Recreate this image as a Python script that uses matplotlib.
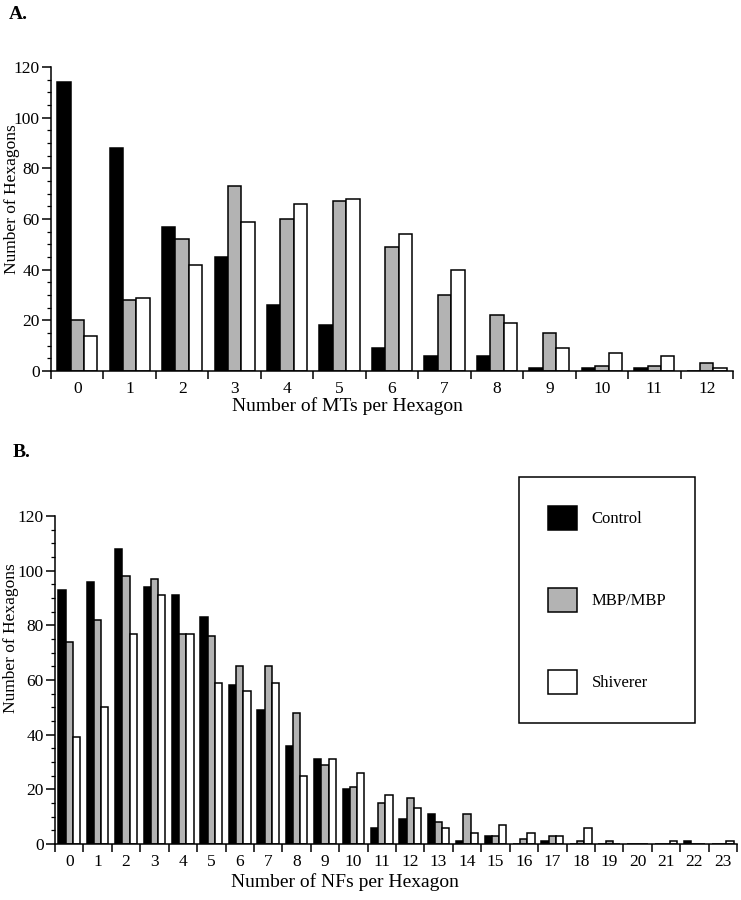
import numpy as np
import matplotlib
matplotlib.use("Agg")
import matplotlib.pyplot as plt

plt.rcParams['font.family'] = ['Liberation Serif', 'DejaVu Serif']

# Panel A: number of MTs per hexagon
mt_bins = list(range(13))
mt_control = [114, 88, 57, 45, 26, 18, 9, 6, 6, 1, 1, 1, 0]
mt_mbp = [20, 28, 52, 73, 60, 67, 49, 30, 22, 15, 2, 2, 3]
mt_shiverer = [14, 29, 42, 59, 66, 68, 54, 40, 19, 9, 7, 6, 1]

# Panel B: number of NFs per hexagon
nf_bins = list(range(24))
nf_control = [93, 96, 108, 94, 91, 83, 58, 49, 36, 31, 20, 6, 9, 11, 1, 3, 0, 1, 0, 0, 0, 0, 1, 0]
nf_mbp = [74, 82, 98, 97, 77, 76, 65, 65, 48, 29, 21, 15, 17, 8, 11, 3, 2, 3, 1, 1, 0, 0, 0, 0]
nf_shiverer = [39, 50, 77, 91, 77, 59, 56, 59, 25, 31, 26, 18, 13, 6, 4, 7, 4, 3, 6, 0, 0, 1, 0, 1]

series_names = ['Control', 'MBP/MBP', 'Shiverer']
colores = ['black', '#b3b3b3', 'white']

W, H = 741, 900
fig = plt.figure(figsize=(W / 100, H / 100), dpi=100)


def box(l, t, r, b):
    return [l / W, 1 - b / H, (r - l) / W, (b - t) / H]


def panel(ax, bins, data, xlabel, ylab_xy, xlab_xy):
    x = np.array(bins)
    bw = 0.255
    for k, (vals, c) in enumerate(zip(data, colores)):
        ax.bar(x + (k - 1) * bw, vals, width=bw, color=c, edgecolor='black',
               linewidth=1.1, label=series_names[k], zorder=2)
    n = len(bins)
    ax.set_xlim(-0.5, n - 0.5)
    ax.set_ylim(0, 120)
    ax.set_xticks(np.arange(-0.5, n, 1))
    ax.set_xticklabels([])
    ax.set_xticks(x, minor=True)
    ax.set_xticklabels([str(b) for b in bins], minor=True, fontsize=12.5)
    ax.tick_params(axis='x', which='major', direction='out', length=5.5, width=1.1)
    ax.tick_params(axis='x', which='minor', length=0, pad=7)
    ax.set_yticks(np.arange(0, 121, 20))
    ax.set_yticks(np.arange(0, 121, 5), minor=True)
    ax.tick_params(axis='y', which='major', direction='out', length=6.5, width=1.1,
                   labelsize=12.5, pad=1.5)
    ax.tick_params(axis='y', which='minor', direction='out', length=3, width=0.9)
    for s in ['top', 'right']:
        ax.spines[s].set_visible(False)
    for s in ['left', 'bottom']:
        ax.spines[s].set_linewidth(1.1)
    ax.set_ylabel('Number of Hexagons', fontsize=12.5, va='center')
    ax.yaxis.set_label_coords(*ylab_xy)
    ax.set_xlabel(xlabel, fontsize=14)
    ax.xaxis.set_label_coords(*xlab_xy)


axA = fig.add_axes(box(51, 67, 733, 371))
panel(axA, mt_bins, [mt_control, mt_mbp, mt_shiverer],
      'Number of MTs per Hexagon', (-0.0565, 0.566), (0.434, -0.0855))

axB = fig.add_axes(box(55, 516, 737, 844))
panel(axB, nf_bins, [nf_control, nf_mbp, nf_shiverer],
      'Number of NFs per Hexagon', (-0.0645, 0.627), (0.4245, -0.0884))

fig.text(9 / W, 1 - 6 / H, 'A.', fontsize=14, fontweight='bold', va='top', ha='left')
fig.text(13 / W, 1 - 444 / H, 'B.', fontsize=14, fontweight='bold', va='top', ha='left')

leg = fig.legend(*axB.get_legend_handles_labels(), loc='upper left',
                 bbox_to_anchor=(519 / W, 1 - 477 / H), fontsize=12,
                 handlelength=1.75, handleheight=1.8, labelspacing=3.5,
                 handletextpad=0.85, borderpad=1.75, borderaxespad=0,
                 fancybox=False, framealpha=1, edgecolor='black')
leg.get_frame().set_linewidth(1.1)

fig.savefig('out.png', dpi=100)
